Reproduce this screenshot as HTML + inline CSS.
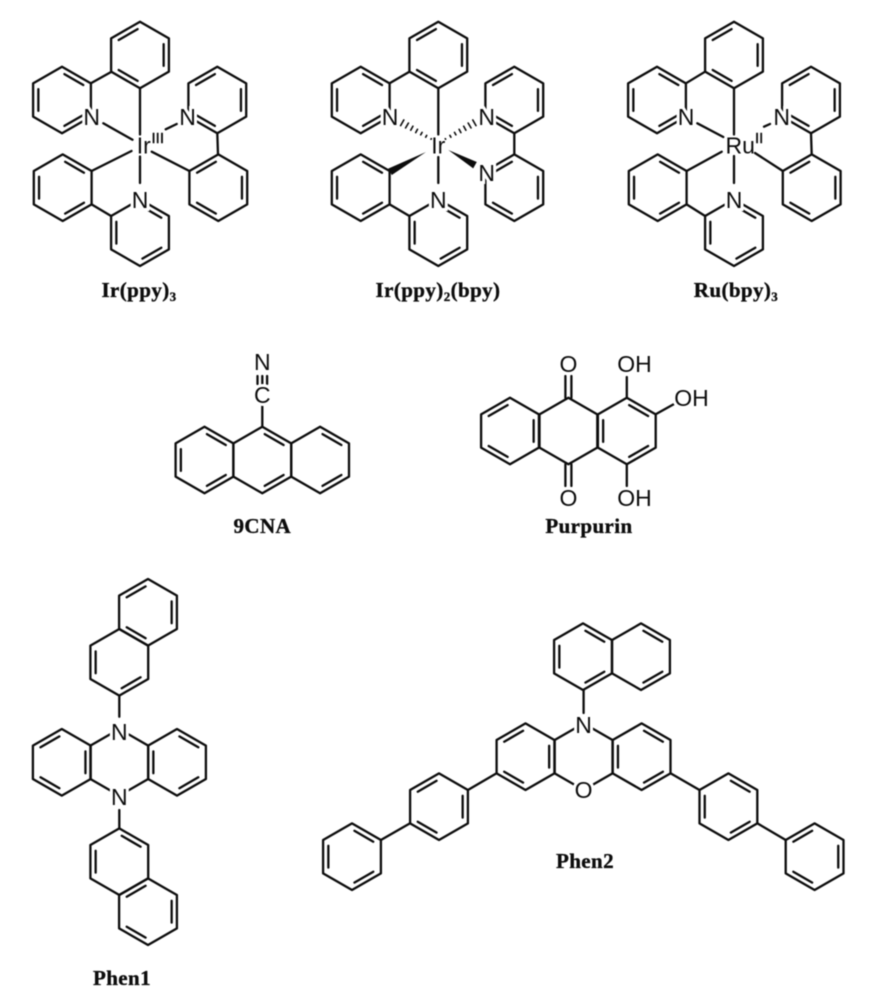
<!DOCTYPE html>
<html><head><meta charset="utf-8"><style>
html,body{margin:0;padding:0;background:#fff;width:879px;height:1000px;overflow:hidden}
svg{display:block;filter:blur(.5px)}
.b{fill:none;stroke:#0c0c0c;stroke-width:2.3;stroke-linejoin:round;stroke-linecap:round}
.t{font-family:"Liberation Sans",sans-serif;font-size:23px;fill:#0c0c0c;stroke:#fff;stroke-width:6px;paint-order:stroke;text-anchor:middle}
.s{font-family:"Liberation Sans",sans-serif;font-size:15px;fill:#0c0c0c;stroke:#0c0c0c;stroke-width:.4px}
.m{font-family:"Liberation Sans",sans-serif;font-size:23px;fill:#0c0c0c}
.l{font-family:"Liberation Serif",serif;font-weight:bold;font-size:21px;letter-spacing:.4px;fill:#0c0c0c;stroke:#0c0c0c;stroke-width:.35px;text-anchor:middle}
.l tspan{font-size:13px}
</style></head><body>
<svg width="879" height="1000" viewBox="0 0 879 1000" xmlns="http://www.w3.org/2000/svg">
<defs>
<polygon id="h" points="0,-33.3 28.9,-16.65 28.9,16.65 0,33.3 -28.9,16.65 -28.9,-16.65"/>
<g id="A"><use href="#h"/><path d="M2.4,-25.9L21.3,-15M21.3,15L2.4,25.9M-23.65,10.9V-10.9"/></g>
<g id="B"><use href="#h"/><path d="M23.65,-10.9V10.9M-2.4,25.9L-21.3,15M-21.3,-15L-2.4,-25.9"/></g>
<g id="C"><use href="#h"/><path d="M2.4,-25.9L21.3,-15M21.3,15L2.4,25.9"/></g>
<g id="D"><use href="#h"/><path d="M21.3,15L2.4,25.9M-23.65,10.9V-10.9"/></g>
<g id="E"><use href="#h"/><path d="M2.4,-25.9L21.3,-15M-23.65,10.9V-10.9"/></g>
</defs>

<g class="b">
<!-- Ir(ppy)3 -->
<use href="#B" x="140" y="55"/><use href="#A" x="62" y="100"/><use href="#A" x="62.7" y="187.7"/>
<use href="#A" x="140" y="232.7"/><use href="#B" x="217.3" y="100"/><use href="#B" x="218.3" y="187.7"/>
<path d="M111.5,71.7L90.9,83.3M140,88.3V134.5M103.3,123.3L132.5,139.7M91.6,171L131.5,151M140,183V156.5M111.1,216L91.6,204.4M151.7,151.7L189.4,171M217.3,133.3L218,154.4M176.7,124L165.7,129.3"/>

<!-- Ir(ppy)2(bpy) -->
<use href="#B" x="438.3" y="55"/><use href="#A" x="360.7" y="100"/><use href="#A" x="360.7" y="187.7"/>
<use href="#A" x="438.3" y="232.7"/><use href="#B" x="514.3" y="100"/><use href="#B" x="514.3" y="187.7"/>
<path d="M409.4,71.7L389.6,83.3M438.3,88.3V134.5M438.3,157V183M409.4,216L389.6,204.4M514.3,133.3V154.4"/>
<g stroke-width="1.6">
<path d="M431,139.2l.3,-.5M426.7,135.4L425.7,137.2M422.1,132.4L420.7,134.8M417.5,129.3L415.7,132.6M412.9,126.2L410.7,130.2M408.4,123.1L405.6,127.9M403.8,120L400.6,125.6"/>
<path transform="translate(876.6 0) scale(-1 1)" d="M431,139.2l.3,-.5M426.7,135.4L425.7,137.2M422.1,132.4L420.7,134.8M417.5,129.3L415.7,132.6M412.9,126.2L410.7,130.2M408.4,123.1L405.6,127.9M403.8,120L400.6,125.6"/>
</g>

<!-- Ru(bpy)3 -->
<use href="#B" x="734" y="55"/><use href="#A" x="657" y="100"/><use href="#A" x="657.7" y="187.7"/>
<use href="#A" x="734" y="232.7"/><use href="#B" x="811" y="100"/><use href="#B" x="811.7" y="187.7"/>
<path d="M705.1,71.7L685.9,83.3M734,88.3V134.5M697.3,123.3L723.3,137M686.6,171L721.7,151.7M734,183V156M705.1,216L686.6,204.4M755,153L782.8,171M811,133.3L811.7,154.4M770,124L764,126.7"/>

<!-- 9CNA -->
<use href="#A" x="204.5" y="460"/><use href="#C" x="262.3" y="460"/><use href="#C" x="320.1" y="460"/>
<path d="M262.3,426.7V405M257.5,376V384M262.3,376V384M267.1,376V384"/>

<!-- Purpurin -->
<use href="#B" x="510" y="431"/><use href="#h" x="568.4" y="431"/><use href="#A" x="626.8" y="431"/>
<path d="M565.4,397.7V376M571.4,397.7V376M565.4,464.3V486M571.4,464.3V486M626.8,397.7V377M655.7,414.3L675,403.5M626.8,464.3V486"/>

<!-- Phen1 -->
<use href="#B" x="148" y="612.3"/><use href="#D" x="119.3" y="662.3"/>
<path d="M119.3,695.6V716.7M119.3,810V828.4"/>
<use href="#h" x="119.3" y="762.3"/><use href="#B" x="61.8" y="762.3"/><use href="#A" x="177" y="762.3"/>
<use href="#E" x="119.3" y="861.7"/><use href="#B" x="148" y="911.7"/>

<!-- Phen2 -->
<use href="#A" x="583" y="656.7"/><use href="#C" x="641" y="656.7"/>
<path d="M583.6,690V713"/>
<use href="#h" x="583.6" y="756.7"/><use href="#B" x="525.5" y="756.7"/><use href="#A" x="641.6" y="756.7"/>
<use href="#B" x="439" y="806.7"/><use href="#A" x="352" y="856.7"/>
<use href="#A" x="728.4" y="806.7"/><use href="#B" x="814.6" y="856.7"/>
<path d="M496.6,773.3L467.9,790M410.1,823.3L380.9,840M670.5,773.3L699.5,790M757.3,823.3L785.7,840"/>
</g>

<polygon points="426,152 391.8,175 388.2,168.6" fill="#0c0c0c"/>
<polygon points="448.3,150 473.2,168.4 476.8,162" fill="#0c0c0c"/>
<circle cx="583.6" cy="790" r="11" fill="#fff"/>

<!-- atom labels -->
<text class="t" x="91.7" y="125">N</text><text class="t" x="187.5" y="125">N</text><text class="t" x="140" y="208">N</text>
<text class="m" x="136.8" y="153.5">Ir</text><text class="s" x="151.5" y="143">III</text>

<text class="t" x="390" y="125">N</text><text class="t" x="486.7" y="125">N</text><text class="t" x="486.7" y="181">N</text><text class="t" x="438.3" y="208">N</text>
<text class="m" x="431.3" y="153.5">Ir</text>

<text class="t" x="686" y="125">N</text><text class="t" x="781.7" y="125">N</text><text class="t" x="734" y="208">N</text>
<text class="m" x="725.5" y="153.5">Ru</text><text class="s" x="755" y="143">II</text>

<text class="t" x="262.3" y="370">N</text><text class="t" x="262.3" y="403">C</text>

<text class="t" x="568.4" y="372">O</text><text class="t" x="568.4" y="506">O</text>
<text class="t" x="634.5" y="372">OH</text><text class="t" x="691.5" y="406">OH</text><text class="t" x="634.5" y="506">OH</text>

<text class="t" x="119.3" y="740">N</text><text class="t" x="119.3" y="805">N</text>
<text class="t" x="583.6" y="733">N</text><text class="t" x="583.6" y="798">O</text>

<!-- captions -->
<text class="l" x="139" y="297">Ir(ppy)<tspan dy="4">3</tspan></text>
<text class="l" x="438" y="297">Ir(ppy)<tspan dy="4">2</tspan><tspan dy="-4" style="font-size:21px">(bpy)</tspan></text>
<text class="l" x="736" y="297">Ru(bpy)<tspan dy="4">3</tspan></text>
<text class="l" x="262.3" y="533">9CNA</text>
<text class="l" x="589" y="533">Purpurin</text>
<text class="l" x="122" y="985">Phen1</text>
<text class="l" x="585" y="868">Phen2</text>
</svg>
</body></html>
